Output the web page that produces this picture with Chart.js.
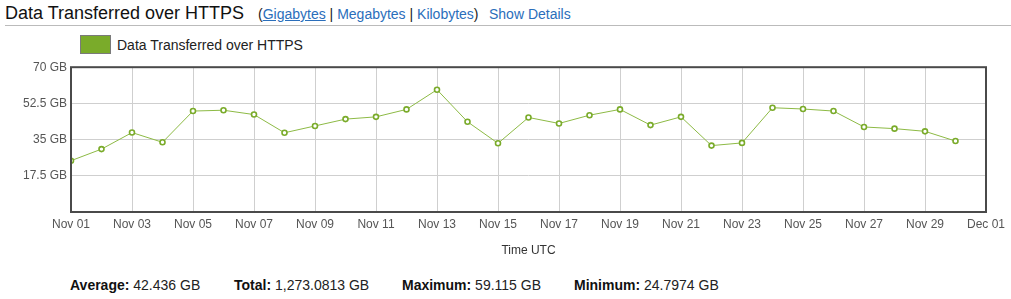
<!DOCTYPE html>
<html>
<head>
<meta charset="utf-8">
<script src="https://cdn.jsdelivr.net/npm/chart.js@4.4.0/dist/chart.umd.min.js"></script>
<style>
    body { margin: 0; width: 1011px; height: 299px; overflow: hidden; background: #fff; font-family: "Liberation Sans", Arial, sans-serif; position: relative; }
    .title { position: absolute; left: 5px; top: 3px; font-size: 18px; color: #111; white-space: nowrap; }
    .links { position: absolute; left: 258px; top: 6px; font-size: 14px; color: #222; white-space: nowrap; }
    .links a { color: #2a6ebb; text-decoration: none; }
    .links a.sel { text-decoration: underline; }
    .details { position: absolute; left: 489px; top: 6px; font-size: 14px; color: #2a6ebb; white-space: nowrap; }
    .rule { position: absolute; left: 5px; right: 0; top: 25px; border-top: 1px solid #bbb; }
    .legend { position: absolute; left: 80px; top: 35px; font-size: 14px; color: #222; white-space: nowrap; }
    .legend .box { display: inline-block; width: 29px; height: 17px; background: #7aab2a; border: 1px solid #7a7a7a; vertical-align: middle; margin-right: 6px; }
    .legend span { vertical-align: middle; }
    #wrap { position: absolute; left: 0; top: 56px; width: 1011px; height: 204px; }
    .stat { position: absolute; top: 277px; font-size: 14px; color: #222; white-space: nowrap; }
    .stat b { color: #111; }
</style>
</head>
<body>
<div class="title">Data Transferred over HTTPS</div>
<div class="links">(<a class="sel">Gigabytes</a> | <a>Megabytes</a> | <a>Kilobytes</a>)</div>
<div class="details">Show Details</div>
<div class="rule"></div>
<div class="legend"><span class="box"></span><span>Data Transferred over HTTPS</span></div>
<div id="wrap"><canvas id="chart"></canvas></div>
<div class="stat" style="left:70px"><b>Average:</b> 42.436 GB</div>
<div class="stat" style="left:234px"><b>Total:</b> 1,273.0813 GB</div>
<div class="stat" style="left:402px"><b>Maximum:</b> 59.115 GB</div>
<div class="stat" style="left:574px"><b>Minimum:</b> 24.7974 GB</div>

<script>
// --- Datos ---
const days = ['Nov 01', 'Nov 02', 'Nov 03', 'Nov 04', 'Nov 05', 'Nov 06', 'Nov 07', 'Nov 08', 'Nov 09', 'Nov 10',
    'Nov 11', 'Nov 12', 'Nov 13', 'Nov 14', 'Nov 15', 'Nov 16', 'Nov 17', 'Nov 18', 'Nov 19', 'Nov 20',
    'Nov 21', 'Nov 22', 'Nov 23', 'Nov 24', 'Nov 25', 'Nov 26', 'Nov 27', 'Nov 28', 'Nov 29', 'Nov 30'];
const httpsGB = [24.80, 30.4, 38.4, 33.7, 48.8, 49.2, 47.1, 38.3, 41.6, 44.9,
    46.0, 49.6, 59.115, 43.6, 33.2, 45.7, 42.8, 46.8, 49.6, 42.0,
    46.0, 32.1, 33.4, 50.4, 49.8, 48.8, 41.1, 40.3, 39.0, 34.3];
const xTickLabels = ['Nov 01', 'Nov 03', 'Nov 05', 'Nov 07', 'Nov 09', 'Nov 11', 'Nov 13', 'Nov 15',
    'Nov 17', 'Nov 19', 'Nov 21', 'Nov 23', 'Nov 25', 'Nov 27', 'Nov 29', 'Dec 01'];
const yTickLabels = ['', '17.5 GB', '35 GB', '52.5 GB', '70 GB'];

const GREEN = '#7aab2a';

// marco alrededor del área del gráfico
const framePlugin = {
    id: 'frame',
    afterDraw(chart) {
        const a = chart.chartArea;
        const ctx = chart.ctx;
        ctx.save();
        ctx.strokeStyle = '#4a4a4a';
        ctx.lineWidth = 2;
        ctx.strokeRect(a.left, a.top, a.right - a.left, a.bottom - a.top);
        ctx.restore();
    }
};

function renderChart() {
    const ctx = document.getElementById('chart').getContext('2d');
    new Chart(ctx, {
        type: 'line',
        data: {
            datasets: [{
                label: 'Data Transferred over HTTPS',
                data: httpsGB.map((v, i) => ({ x: i, y: v })),
                borderColor: '#8dba45',
                borderWidth: 1,
                pointRadius: 2.5,
                pointBorderWidth: 1.6,
                pointBorderColor: GREEN,
                pointBackgroundColor: '#ffffff',
                tension: 0
            }]
        },
        options: {
            responsive: true,
            maintainAspectRatio: false,
            animation: false,
            layout: { padding: { top: 8, right: 25, left: 0, bottom: 0 } },
            scales: {
                x: {
                    type: 'linear',
                    min: 0,
                    max: 30,
                    afterFit(scale) { scale.height = 48; },
                    afterBuildTicks(scale) {
                        scale.ticks = xTickLabels.map((_, i) => ({ value: i * 2 }));
                    },
                    ticks: {
                        autoSkip: false,
                        maxRotation: 0,
                        padding: 5,
                        color: '#555',
                        font: { family: 'Liberation Sans', size: 12 },
                        callback: (v) => xTickLabels[v / 2]
                    },
                    grid: { color: '#cfcfcf', drawTicks: false },
                    border: { display: false },
                    title: {
                        display: true,
                        text: 'Time UTC',
                        color: '#333',
                        font: { family: 'Liberation Sans', size: 12 },
                        padding: { top: 0, bottom: 2 }
                    }
                },
                y: {
                    min: 0,
                    max: 70,
                    afterFit(scale) { scale.width = 71; },
                    afterBuildTicks(scale) {
                        scale.ticks = yTickLabels.map((_, i) => ({ value: i * 17.5 }));
                    },
                    ticks: {
                        padding: 4,
                        color: '#555',
                        font: { family: 'Liberation Sans', size: 12 },
                        callback: (v) => yTickLabels[Math.round(v / 17.5)]
                    },
                    grid: { color: '#cfcfcf', drawTicks: false },
                    border: { display: false }
                }
            },
            plugins: {
                legend: { display: false },
                tooltip: { enabled: false }
            }
        },
        plugins: [framePlugin]
    });
}

window.onload = renderChart;
</script>
</body>
</html>
